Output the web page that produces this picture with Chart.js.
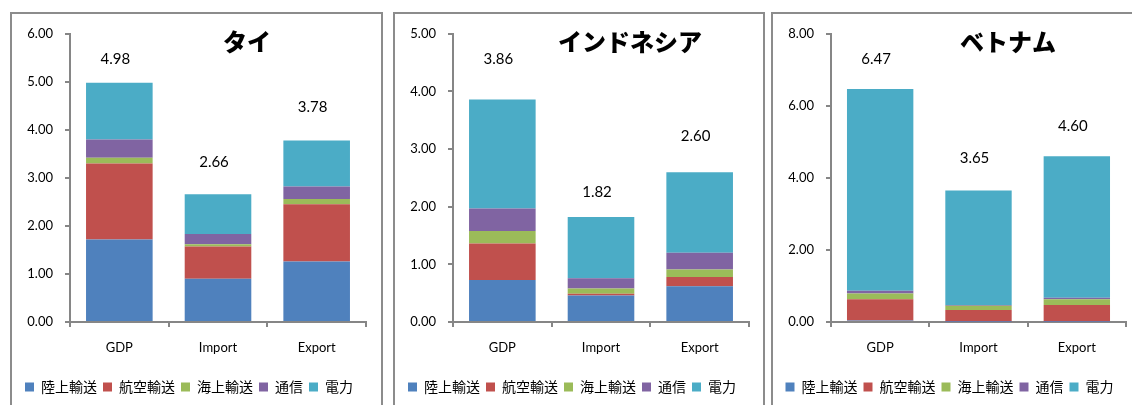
<!DOCTYPE html>
<html lang="ja">
<head>
<meta charset="utf-8">
<title>タイ・インドネシア・ベトナム</title>
<script src="https://cdn.jsdelivr.net/npm/chart.js@4.4.1/dist/chart.umd.min.js"></script>
<style>
  html, body { margin: 0; padding: 0; background: #fff; overflow: hidden; }
  body { width: 1132px; height: 405px; position: relative; }
  .panel { position: absolute; top: 12px; height: 400px; border: 2px solid #8c8c8c; background: #fff; }
  .panel canvas { display: block; }
</style>
</head>
<body>
<div class="panel" style="left:10px;width:369px;"><canvas id="thai" width="369" height="390"></canvas></div>
<div class="panel" style="left:393px;width:368px;"><canvas id="indo" width="368" height="390"></canvas></div>
<div class="panel" style="left:771px;width:370px;"><canvas id="viet" width="370" height="390"></canvas></div>
<script>
// Categories and series names
const categories = ['GDP', 'Import', 'Export'];
const seriesNames = ['陸上輸送', '航空輸送', '海上輸送', '通信', '電力'];

// タイ
const thaiLand    = [1.72, 0.90, 1.26];
const thaiAir     = [1.58, 0.67, 1.19];
const thaiSea     = [0.12, 0.05, 0.11];
const thaiTelecom = [0.38, 0.21, 0.26];
const thaiPower   = [1.18, 0.83, 0.96];

// インドネシア
const indoLand    = [0.73, 0.46, 0.62];
const indoAir     = [0.63, 0.03, 0.16];
const indoSea     = [0.22, 0.09, 0.13];
const indoTelecom = [0.39, 0.18, 0.29];
const indoPower   = [1.89, 1.06, 1.40];

// ベトナム
const vietLand    = [0.04, 0.01, 0.01];
const vietAir     = [0.59, 0.32, 0.46];
const vietSea     = [0.16, 0.12, 0.16];
const vietTelecom = [0.08, 0.02, 0.04];
const vietPower   = [5.60, 3.18, 3.93];

// Axis ranges
const thaiYMax = 6, thaiYStep = 1;
const indoYMax = 5, indoYStep = 1;
const vietYMax = 8, vietYStep = 2;

// Styling
const seriesColors = ['#4F81BD', '#C0504D', '#9BBB59', '#8064A2', '#4BACC6'];
const axisGray = '#868686';
const latinFont = 'Lato, "Open Sans", sans-serif';
const cjkFont = '"Noto Sans CJK JP", sans-serif';

// Vertical lift (px) of each total label above its stack top
const thaiLift = [24, 32, 33];
const indoLift = [40, 25, 36];
const vietLift = [30, 32, 30];

// Writes the stack total above each bar
const totalLabels = {
  id: 'totalLabels',
  afterDatasetsDraw(chart, args, opts) {
    const {ctx, scales: {x, y}} = chart;
    const n = chart.data.labels.length;
    ctx.save();
    ctx.fillStyle = '#000';
    ctx.font = '15px ' + latinFont;
    ctx.textAlign = 'center';
    ctx.textBaseline = 'middle';
    for (let i = 0; i < n; i++) {
      let total = 0;
      chart.data.datasets.forEach(ds => { total += ds.data[i]; });
      const px = x.getPixelForValue(i) - 4;
      const py = y.getPixelForValue(total) - opts.lift[i];
      ctx.fillText(total.toFixed(2), px, py);
    }
    ctx.restore();
  }
};

// Country name in bold at the top of each panel
const panelTitle = {
  id: 'panelTitle',
  afterDraw(chart, args, opts) {
    const {ctx} = chart;
    ctx.save();
    ctx.fillStyle = '#000';
    ctx.font = '900 24px ' + cjkFont;
    ctx.textAlign = 'center';
    ctx.textBaseline = 'middle';
    ctx.fillText(opts.text, opts.x, opts.y);
    ctx.restore();
  }
};

function makePanel(id, title, series, yMax, yStep, lift, rightPad) {
  const datasets = series.map((vals, k) => ({
    label: seriesNames[k],
    data: vals,
    backgroundColor: seriesColors[k],
    borderWidth: 0,
    barPercentage: 0.675,
    categoryPercentage: 1
  }));
  return new Chart(document.getElementById(id), {
    type: 'bar',
    data: { labels: categories, datasets },
    options: {
      responsive: false,
      animation: false,
      devicePixelRatio: 1,
      layout: { padding: { top: 14, right: rightPad, left: 0, bottom: 0 } },
      plugins: {
        legend: {
          position: 'bottom',
          labels: {
            boxWidth: 9,
            boxHeight: 9,
            padding: 6,
            color: '#000',
            font: { family: cjkFont, size: 14 }
          }
        },
        tooltip: { enabled: false },
        totalLabels: { lift },
        panelTitle: { text: title, x: 235, y: 28 }
      },
      scales: {
        x: {
          stacked: true,
          grid: { offset: true, drawOnChartArea: false, drawTicks: true, tickLength: 5, color: axisGray, lineWidth: 2 },
          border: { color: axisGray, width: 2 },
          ticks: { color: '#000', font: { family: latinFont, size: 13 }, padding: 13 },
          afterFit(s) { s.height = 52; }
        },
        y: {
          stacked: true,
          min: 0,
          max: yMax,
          ticks: {
            stepSize: yStep,
            callback: v => Number(v).toFixed(2),
            color: '#000',
            font: { family: latinFont, size: 13 },
            padding: 12
          },
          grid: { drawOnChartArea: false, drawTicks: true, tickLength: 5, color: axisGray, lineWidth: 2 },
          border: { color: axisGray, width: 2 },
          afterFit(s) { s.width = 58; }
        }
      }
    },
    plugins: [totalLabels, panelTitle]
  });
}

function build() {
  makePanel('thai', 'タイ', [thaiLand, thaiAir, thaiSea, thaiTelecom, thaiPower], thaiYMax, thaiYStep, thaiLift, 15);
  makePanel('indo', 'インドネシア', [indoLand, indoAir, indoSea, indoTelecom, indoPower], indoYMax, indoYStep, indoLift, 14);
  makePanel('viet', 'ベトナム', [vietLand, vietAir, vietSea, vietTelecom, vietPower], vietYMax, vietYStep, vietLift, 17);
}

const fontLoads = [
  '13px Lato', '15px Lato', '14px "Noto Sans CJK JP"', '900 24px "Noto Sans CJK JP"'
].map(f => document.fonts.load(f, 'タイ0.'));
Promise.all(fontLoads).then(build, build);
</script>
</body>
</html>
